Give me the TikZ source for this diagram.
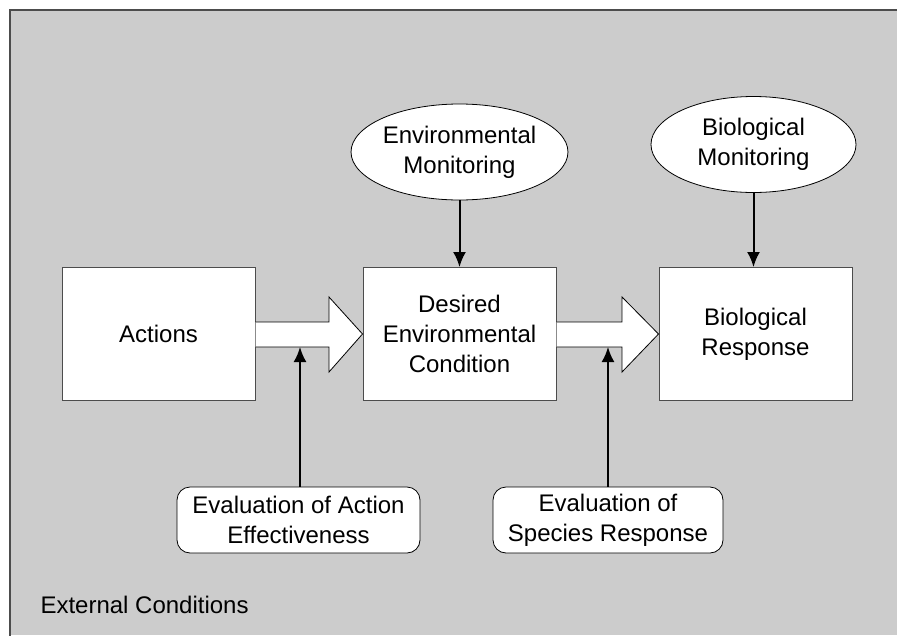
\documentclass[tikz,border=0pt]{standalone}
\usepackage{fontspec}
\setmainfont{Liberation Sans}
\usetikzlibrary{arrows.meta,shapes.geometric}
\begin{document}
\begin{tikzpicture}[x=1pt,y=-1pt,
  txt/.style={font=\fontsize{24}{30}\selectfont,align=center},
  boxnode/.style={draw=black!70,line width=1pt,fill=white,minimum width=193pt,minimum height=133pt,inner sep=0pt,txt},
  ellnode/.style={ellipse,draw=black,line width=0.8pt,fill=white,minimum width=205pt,minimum height=96pt,inner sep=0pt,txt},
  rbox/.style={rounded corners=13pt,draw=black,line width=0.8pt,fill=white,minimum height=66pt,inner sep=0pt,txt},
  blockarrow/.style={draw=black,line width=0.8pt,fill=white},
  conn/.style={line width=2pt,-{Latex[length=15pt,width=13pt]}}]
\useasboundingbox (0,0) rectangle (897,635);
\fill[white] (0,0) rectangle (897,635);
\fill[black!20] (10,10) rectangle (897,635);
\draw[black!70,line width=1.5pt] (10,640) -- (10,10) -- (900,10);
% boxes
\node[boxnode] (act) at (158.5,334) {Actions};
\node[boxnode] (des) at (459.5,334) {Desired\\Environmental\\Condition};
\node[boxnode] (bio) at (755.5,334) {Biological\\Response};
% ellipses
\node[ellnode] (envm) at (459.5,152) {Environmental\\Monitoring};
\node[ellnode] (biom) at (753.5,144.5) {Biological\\Monitoring};
% rounded boxes
\node[rbox,minimum width=243pt] (eva) at (298.5,520) {Evaluation of Action\\Effectiveness};
\node[rbox,minimum width=230pt] (evs) at (608,520) {Evaluation of\\Species Response};
% block arrows
\draw[blockarrow] (act.east |- 0,322) -- (329,322) -- (329,297) -- (des.west) -- (329,372) -- (329,347) -- (act.east |- 0,347);
\draw[blockarrow] (des.east |- 0,322) -- (622,322) -- (622,297) -- (bio.west) -- (622,372) -- (622,347) -- (des.east |- 0,347);
\coordinate (a1) at (300,347);
\coordinate (a2) at (608,347);
% connectors
\draw[conn] (eva.north -| a1) -- (a1);
\draw[conn] (evs.north -| a2) -- (a2);
\draw[conn] (envm.south) -- (des.north -| envm.south);
\draw[conn] (biom.south) -- (bio.north -| biom.south);
\node[txt,anchor=west] (ext) at (37,605) {External Conditions};
\end{tikzpicture}
\end{document}
